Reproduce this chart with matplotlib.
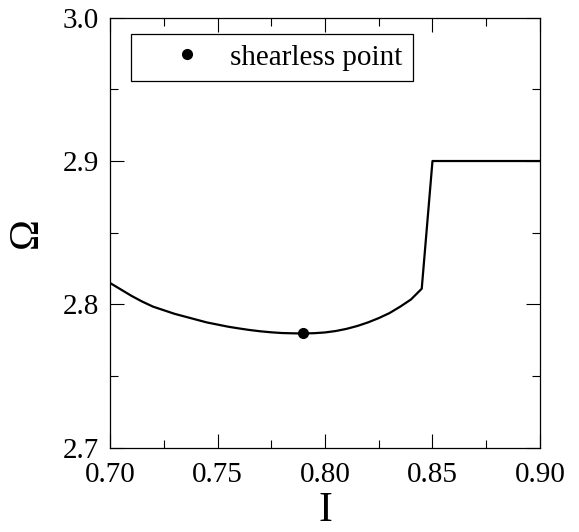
import matplotlib
matplotlib.use("Agg")
import matplotlib.pyplot as plt
from matplotlib.ticker import MultipleLocator, FormatStrFormatter

plt.rcParams['font.family'] = ['Liberation Serif', 'DejaVu Serif']
plt.rcParams['mathtext.fontset'] = 'stix'

I_vals = [0.700, 0.705, 0.710, 0.715, 0.720, 0.725, 0.730, 0.735, 0.740, 0.745,
          0.750, 0.755, 0.760, 0.765, 0.770, 0.775, 0.780, 0.785, 0.790, 0.795,
          0.800, 0.805, 0.810, 0.815, 0.820, 0.825, 0.830, 0.835, 0.840, 0.845,
          0.850, 0.900]
Omega_vals = [2.815, 2.8105, 2.806, 2.802, 2.7985, 2.796, 2.7935, 2.7915, 2.7895, 2.7875,
              2.786, 2.7845, 2.7833, 2.7822, 2.7813, 2.7806, 2.7801, 2.7799, 2.7798, 2.7800,
              2.7805, 2.7815, 2.7830, 2.785, 2.7875, 2.7905, 2.794, 2.7985, 2.8035, 2.811,
              2.900, 2.900]
shearless_I = [0.79]
shearless_Omega = [2.7798]

fig = plt.figure(figsize=(5.79, 5.32), dpi=100)
ax = fig.add_axes([0.19, 0.158, 0.7426, 0.809])

ax.plot(I_vals, Omega_vals, color='black', lw=1.6)
ax.plot(shearless_I, shearless_Omega, 'o', color='black', ms=7, ls='none',
        label='shearless point')

ax.set_xlim(0.70, 0.90)
ax.set_ylim(2.7, 3.0)
ax.xaxis.set_major_locator(MultipleLocator(0.05))
ax.xaxis.set_minor_locator(MultipleLocator(0.025))
ax.yaxis.set_major_locator(MultipleLocator(0.1))
ax.yaxis.set_minor_locator(MultipleLocator(0.05))
ax.xaxis.set_major_formatter(FormatStrFormatter('%.2f'))
ax.yaxis.set_major_formatter(FormatStrFormatter('%.1f'))

ax.tick_params(which='both', direction='in', top=True, right=True, width=0.8)
ax.tick_params(which='major', length=10, labelsize=21)
ax.tick_params(axis='x', which='major', pad=10)
ax.tick_params(axis='y', which='major', pad=8)
ax.tick_params(which='minor', length=6)
for s in ax.spines.values():
    s.set_linewidth(0.9)

ax.set_xlabel('I', fontsize=30, labelpad=3)
ax.set_ylabel('Ω', fontsize=30, labelpad=12)

leg = ax.legend(loc='upper left', bbox_to_anchor=(0.049, 0.962), fontsize=21,
                frameon=True, fancybox=False, edgecolor='black', framealpha=1,
                handletextpad=-0.1, handlelength=3.15, borderpad=0.35,
                borderaxespad=0, numpoints=1)
leg.get_frame().set_linewidth(0.9)

fig.savefig('out.png', dpi=100)
